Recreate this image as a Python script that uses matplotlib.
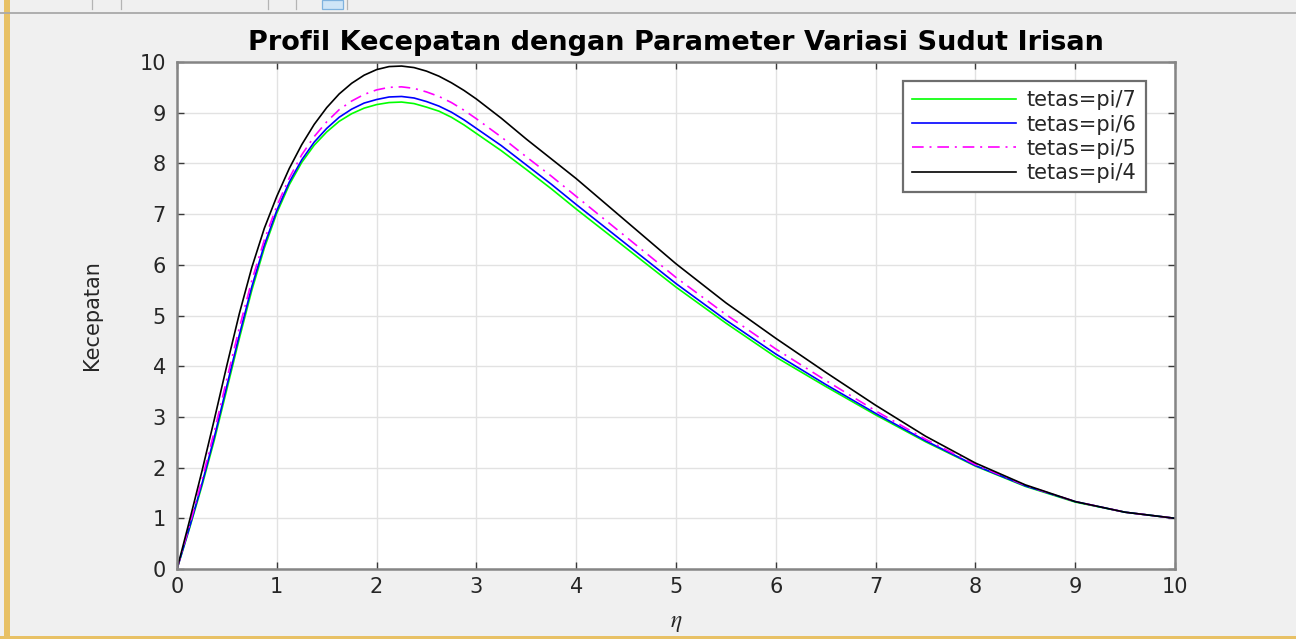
import matplotlib
matplotlib.use("Agg")
import matplotlib.pyplot as plt
from matplotlib.lines import Line2D
from matplotlib.patches import Rectangle

plt.rcParams['font.family'] = ['DejaVu Sans']
plt.rcParams['mathtext.fontset'] = 'stix'

# ---- data ----
eta = [0, 0.125, 0.25, 0.375, 0.5, 0.625, 0.75, 0.875, 1.0, 1.125, 1.25, 1.375, 1.5,
       1.625, 1.75, 1.875, 2.0, 2.125, 2.25, 2.375, 2.5, 2.625, 2.75, 2.875, 3.0,
       3.25, 3.5, 3.75, 4.0, 4.5, 5.0, 5.5, 6.0, 6.5, 7.0, 7.5, 8.0, 8.5, 9.0, 9.5, 10.0]

v_pi7 = [0, 0.80, 1.64, 2.55, 3.55, 4.55, 5.50, 6.33, 7.02, 7.58, 8.02, 8.36, 8.62,
         8.83, 8.98, 9.09, 9.16, 9.20, 9.21, 9.18, 9.11, 9.03, 8.91, 8.76, 8.59,
         8.25, 7.88, 7.50, 7.10, 6.33, 5.56, 4.85, 4.18, 3.60, 3.04, 2.51, 2.03, 1.63, 1.32, 1.12, 1.00]
v_pi6 = [0, 0.82, 1.68, 2.61, 3.62, 4.62, 5.57, 6.39, 7.07, 7.63, 8.07, 8.42, 8.69,
         8.91, 9.07, 9.19, 9.26, 9.31, 9.32, 9.29, 9.22, 9.13, 9.01, 8.86, 8.69,
         8.35, 7.97, 7.59, 7.19, 6.41, 5.63, 4.91, 4.24, 3.64, 3.07, 2.53, 2.04, 1.64, 1.33, 1.12, 1.00]
v_pi5 = [0, 0.86, 1.76, 2.72, 3.75, 4.76, 5.69, 6.49, 7.16, 7.71, 8.17, 8.53, 8.82,
         9.06, 9.23, 9.36, 9.45, 9.50, 9.51, 9.48, 9.41, 9.32, 9.20, 9.05, 8.88,
         8.52, 8.13, 7.75, 7.35, 6.55, 5.75, 5.02, 4.34, 3.72, 3.12, 2.56, 2.06, 1.65, 1.33, 1.12, 1.00]
v_pi4 = [0, 0.95, 1.93, 2.96, 4.02, 5.04, 5.95, 6.72, 7.35, 7.90, 8.37, 8.77, 9.10,
         9.37, 9.58, 9.74, 9.85, 9.91, 9.92, 9.89, 9.82, 9.72, 9.59, 9.44, 9.27,
         8.89, 8.48, 8.09, 7.70, 6.86, 6.02, 5.25, 4.55, 3.88, 3.23, 2.62, 2.09, 1.66, 1.33, 1.12, 1.00]

labels = ['tetas=pi/7', 'tetas=pi/6', 'tetas=pi/5', 'tetas=pi/4']
ticks = list(range(0, 11))
title = 'Profil Kecepatan dengan Parameter Variasi Sudut Irisan'

# ---- figure ----
W, H = 1296, 639
fig = plt.figure(figsize=(W / 100, H / 100), dpi=100, facecolor='#f0f0f0')

def fx(px):
    return px / W

def fy(py):
    return 1 - py / H

# window decorations (top toolbar strip, orange frame)
fig.add_artist(Line2D([0, 1], [fy(12.5), fy(12.5)], transform=fig.transFigure,
                      color='#a9a9a9', lw=1.3))
for sx in [92, 121, 268, 296, 347]:
    fig.add_artist(Line2D([fx(sx), fx(sx)], [fy(0), fy(9)], transform=fig.transFigure,
                          color='#b4b4b4', lw=0.9))
fig.add_artist(Rectangle((fx(322), fy(9)), fx(21), 9 / H, transform=fig.transFigure,
                         facecolor='#cfe5f7', edgecolor='#7fb2de', lw=0.9))
fig.add_artist(Rectangle((fx(4), 0), fx(6), 1, transform=fig.transFigure,
                         facecolor='#e8c165', edgecolor='none'))
fig.add_artist(Rectangle((0, 0), 1, 3 / H, transform=fig.transFigure,
                         facecolor='#e8c165', edgecolor='none'))

ax = fig.add_axes([fx(177), (H - 569) / H, 998 / W, 507 / H])
ax.set_facecolor('white')

ax.plot(eta, v_pi7, color='#00ff00', lw=1.2, label=labels[0])
ax.plot(eta, v_pi6, color='#0000ff', lw=1.2, label=labels[1])
ax.plot(eta, v_pi5, color='#ff00ff', lw=1.2, label=labels[2],
        dashes=(7, 3.5, 1.2, 3.5))
ax.plot(eta, v_pi4, color='#000000', lw=1.2, label=labels[3])

ax.set_xlim(0, 10)
ax.set_ylim(0, 10)
ax.set_xticks(ticks)
ax.set_yticks(ticks)
ax.grid(True, color='#e2e2e2', lw=1.0)
ax.set_axisbelow(True)
for s in ax.spines.values():
    s.set_color('#858585')
    s.set_linewidth(1.8)
ax.tick_params(direction='in', top=True, right=True, length=5, width=1,
               color='#3a3a3a', labelsize=15, labelcolor='#262626')
ax.tick_params(axis='x', pad=6)
ax.tick_params(axis='y', pad=8)

ax.set_title(title, fontsize=19.5, fontweight='bold', color='#000000', pad=9)
ax.set_xlabel(r'$\eta$', fontsize=17, color='#262626')
ax.xaxis.set_label_coords(0.5, -0.08)
ax.set_ylabel('Kecepatan', fontsize=15, color='#262626')
ax.yaxis.set_label_coords(-0.075, 0.5)

leg = ax.legend(loc='upper right', bbox_to_anchor=(0.971, 0.9625), fontsize=15,
                frameon=True, fancybox=False, framealpha=1, edgecolor='#6e6e6e',
                handlelength=5.0, handletextpad=0.5, borderpad=0.45,
                labelspacing=0.2, borderaxespad=0)
leg.get_frame().set_linewidth(1.6)
for t in leg.get_texts():
    t.set_color('#262626')

fig.savefig('out.png', dpi=100, facecolor=fig.get_facecolor())
